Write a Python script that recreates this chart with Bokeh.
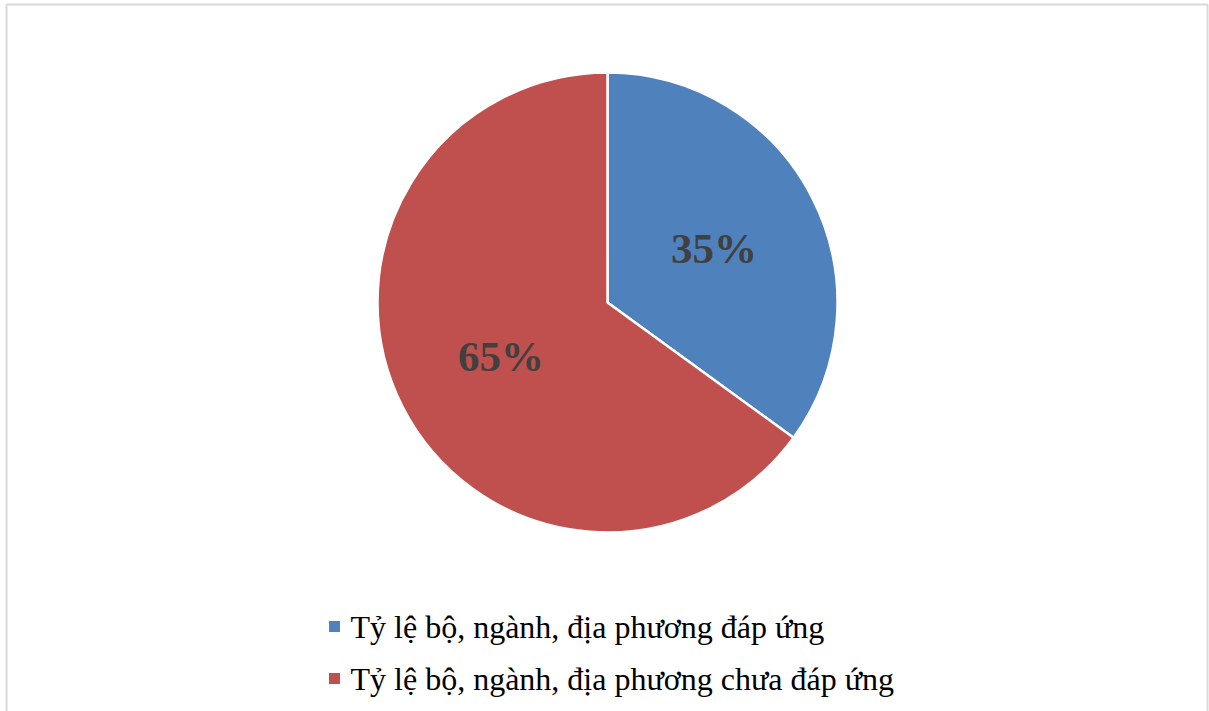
import math
from bokeh.plotting import figure
from bokeh.models import Range1d
from bokeh.core.properties import value
from bokeh.embed import file_html
from bokeh.resources import INLINE

categories = ["Tỷ lệ bộ, ngành, địa phương đáp ứng",
              "Tỷ lệ bộ, ngành, địa phương chưa đáp ứng"]
values = [35, 65]
colors = ["#4F81BD", "#C0504D"]

W, H = 1209, 711
p = figure(width=W, height=H, output_backend="svg", toolbar_location=None,
           x_range=Range1d(0, W), y_range=Range1d(0, H), min_border=0)
p.axis.visible = False
p.grid.visible = False
p.outline_line_color = None
p.background_fill_color = "white"

# chart area border
p.quad(left=[6], right=[1207], top=[H - 4], bottom=[-10], fill_color=None,
       line_color="#D9D9D9", line_width=2)

cx, cy, r = 607, H - 302, 230
total = sum(values)
start = 90.0
starts, ends, lx, ly, labels = [], [], [], [], []
for v in values:
    sweep = 360.0 * v / total
    end = start - sweep
    starts.append(math.radians(end))
    ends.append(math.radians(start))
    mid = math.radians((start + end) / 2)
    lx.append(cx + 0.52 * r * math.cos(mid))
    ly.append(cy + 0.52 * r * math.sin(mid))
    labels.append(f"{round(100 * v / total)}%")
    start = end

p.wedge(x=cx, y=cy, radius=r, start_angle=starts, end_angle=ends,
        fill_color=colors, line_color="white", line_width=2.5)

p.text(x=lx, y=ly, text=labels, text_font=value("Liberation Serif"),
       text_font_style="bold", text_font_size="43px", text_color="#404040",
       text_align="center", text_baseline="middle")

# legend
leg_y = [H - 626, H - 678]
p.rect(x=[334] * 2, y=leg_y, width=11, height=11, fill_color=colors, line_color=None)
p.text(x=[350] * 2, y=leg_y, text=categories, text_font=value("Liberation Serif"),
       text_font_size="32px", text_color="black", text_align="left",
       text_baseline="middle")

open("out.html", "w").write(file_html(p, INLINE))
